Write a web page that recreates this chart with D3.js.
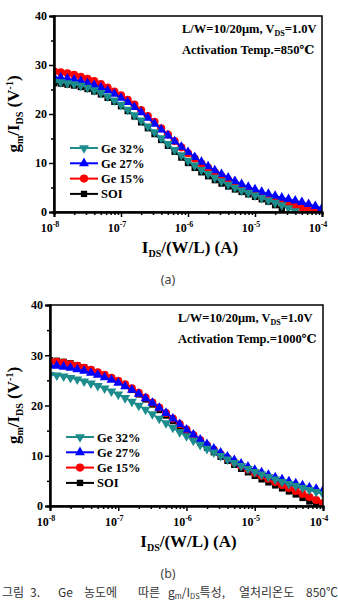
<!DOCTYPE html>
<html>
<head>
<meta charset="utf-8">
<script src="https://cdn.jsdelivr.net/npm/d3@7/dist/d3.min.js"></script>
<style>
  html, body { margin: 0; padding: 0; background: #fff; }
  svg { display: block; }
</style>
</head>
<body>
<script>
// log10 of I_DS/(W/L) at each measured point
const logI = [-8.0, -7.9, -7.8, -7.7, -7.6, -7.5, -7.4, -7.3, -7.2, -7.1,
              -7.0, -6.9, -6.8, -6.7, -6.6, -6.5, -6.4, -6.3, -6.2, -6.1,
              -6.0, -5.9, -5.8, -5.7, -5.6, -5.5, -5.4, -5.3, -5.2, -5.1,
              -5.0, -4.9, -4.8, -4.7, -4.6, -4.5, -4.4, -4.3, -4.2, -4.1, -4.0]

const seriesNames = ["Ge 32%", "Ge 27%", "Ge 15%", "SOI"]
const xDecades = [-8, -7, -6, -5, -4]
const yTicks = [0, 10, 20, 30, 40]
const yMinor = [5, 15, 25, 35]

// (a) activation 850C
const a_ge32 = [26.6, 26.5, 26.3, 26.1, 25.8, 25.4, 24.9, 24.3, 23.6, 22.8,
                21.9, 20.9, 19.8, 18.7, 17.5, 16.3, 15.1, 13.9, 12.7, 11.6,
                10.5, 9.5, 8.6, 7.8, 7.0, 6.3, 5.6, 5.0, 4.4, 3.9,
                3.4, 2.9, 2.4, 1.9, 1.4, 0.8, 0.2, null, null, null, null]
const a_ge27 = [27.5, 27.4, 27.2, 27.0, 26.7, 26.3, 25.9, 25.4, 24.8, 24.1,
                23.3, 22.4, 21.4, 20.3, 19.2, 18.0, 16.8, 15.6, 14.4, 13.3,
                12.2, 11.2, 10.2, 9.3, 8.5, 7.7, 7.0, 6.3, 5.7, 5.1,
                4.6, 4.1, 3.7, 3.3, 2.9, 2.6, 2.3, 2.0, 1.6, 1.2, 0.8]
const a_ge15 = [28.7, 28.5, 28.3, 28.0, 27.6, 27.2, 26.7, 26.1, 25.4, 24.6,
                23.8, 22.9, 21.9, 20.8, 19.6, 18.4, 17.1, 15.8, 14.5, 13.2,
                12.0, 10.9, 9.9, 9.0, 8.1, 7.3, 6.5, 5.8, 5.1, 4.5,
                3.9, 3.4, 2.9, 2.4, 2.0, 1.6, 1.2, 0.9, 0.6, 0.3, 0.0]
const a_soi  = [26.3, 26.2, 26.0, 25.8, 25.5, 25.1, 24.6, 24.0, 23.3, 22.5,
                21.6, 20.6, 19.5, 18.3, 17.1, 15.9, 14.7, 13.5, 12.3, 11.1,
                10.0, 9.0, 8.1, 7.3, 6.5, 5.8, 5.2, 4.6, 4.1, 3.6,
                3.1, 2.6, 2.1, 1.4, 0.6, null, null, null, null, null, null]

// (b) activation 1000C
const b_ge32 = [26.1, 26.0, 25.8, 25.5, 25.2, 24.8, 24.4, 23.9, 23.4, 22.8,
                22.2, 21.5, 20.8, 20.0, 19.2, 18.3, 17.4, 16.5, 15.6, 14.7,
                13.9, 13.0, 12.2, 11.4, 10.7, 10.0, 9.3, 8.6, 8.0, 7.4,
                6.8, 6.3, 5.8, 5.3, 4.8, 4.4, 4.0, 3.6, 3.2, 2.8, 2.4]
const b_ge27 = [28.0, 27.9, 27.7, 27.5, 27.2, 26.9, 26.5, 26.1, 25.6, 25.1,
                24.5, 23.8, 23.1, 22.3, 21.4, 20.5, 19.5, 18.5, 17.4, 16.3,
                15.2, 14.2, 13.2, 12.3, 11.4, 10.6, 9.8, 9.1, 8.4, 7.8,
                7.2, 6.7, 6.2, 5.7, 5.3, 4.9, 4.5, 4.1, 3.7, 3.4, 3.1]
const b_ge15 = [28.8, 28.7, 28.5, 28.2, 27.9, 27.5, 27.1, 26.6, 26.1, 25.5,
                24.9, 24.2, 23.4, 22.5, 21.6, 20.6, 19.6, 18.5, 17.4, 16.3,
                15.2, 14.1, 13.1, 12.1, 11.2, 10.3, 9.5, 8.7, 8.0, 7.3,
                6.6, 6.0, 5.4, 4.8, 4.2, 3.6, 3.0, 2.4, 1.8, 1.2, 0.6]
const b_soi  = [29.0, 28.9, 28.7, 28.4, 28.0, 27.6, 27.1, 26.6, 26.0, 25.4,
                24.7, 23.9, 23.1, 22.2, 21.2, 20.2, 19.1, 18.0, 16.9, 15.8,
                14.7, 13.6, 12.6, 11.6, 10.7, 9.8, 9.0, 8.2, 7.4, 6.7,
                6.0, 5.3, 4.7, 4.1, 3.5, 2.9, 2.3, 1.6, 0.9, 0.2, null]

const colors = { "Ge 32%": "#1c8c8c", "Ge 27%": "#0000ff", "Ge 15%": "#ff0000", "SOI": "#000000" }
const SERIF = "'Liberation Serif', 'DejaVu Serif', serif"

const svg = d3.select("body").append("svg")
    .attr("width", 338)
    .attr("height", 603)

const symbolFor = name => {
    if (name === "Ge 32%") return { type: d3.symbolTriangle, size: 42, rot: 180 }
    if (name === "Ge 27%") return { type: d3.symbolTriangle, size: 42, rot: 0 }
    if (name === "Ge 15%") return { type: d3.symbolCircle, size: 52, rot: 0 }
    return { type: d3.symbolSquare, size: 40, rot: 0 }
}

function drawPanel(p){
    const x = d3.scaleLog().domain([1e-8, 1e-4]).range([p.left, p.right])
    const y = d3.scaleLinear().domain([0, 40]).range([p.bottom, p.top])
    const g = svg.append("g")

    g.append("clipPath").attr("id", "clip-" + p.id)
        .append("rect")
        .attr("x", p.left).attr("y", p.top)
        .attr("width", p.right - p.left).attr("height", p.bottom - p.top)

    const plot = g.append("g").attr("clip-path", "url(#clip-" + p.id + ")")

    // draw order: SOI first, Ge 32% on top
    const order = ["SOI", "Ge 15%", "Ge 27%", "Ge 32%"]
    order.forEach(name => {
        const vals = p.series[name]
        const pts = logI.map((l, i) => ({ I: Math.pow(10, l), v: vals[i] })).filter(d => d.v != null)
        const line = d3.line().x(d => x(d.I)).y(d => y(d.v))
        plot.append("path")
            .attr("d", line(pts))
            .attr("fill", "none")
            .attr("stroke", colors[name])
            .attr("stroke-width", 1.5)
        const sym = symbolFor(name)
        plot.append("g").selectAll("path")
            .data(pts)
            .enter().append("path")
            .attr("d", d3.symbol().type(sym.type).size(sym.size))
            .attr("transform", d => `translate(${x(d.I)},${y(d.v)}) rotate(${sym.rot})`)
            .attr("fill", colors[name])
    })

    // frame
    g.append("rect")
        .attr("x", p.left).attr("y", p.top)
        .attr("width", p.right - p.left).attr("height", p.bottom - p.top)
        .attr("fill", "none").attr("stroke", "#000").attr("stroke-width", 1.5)

    // x axis
    const minor = []
    xDecades.slice(0, -1).forEach(dec => {
        for (let k = 2; k <= 9; k++) minor.push(k * Math.pow(10, dec))
    })
    const xAxisG = g.append("g").attr("transform", `translate(0,${p.bottom})`)
    xAxisG.call(d3.axisBottom(x).tickValues(xDecades.map(d => Math.pow(10, d))).tickSize(5).tickFormat(""))
    xAxisG.append("g").call(d3.axisBottom(x).tickValues(minor).tickSize(3).tickFormat(""))
    xAxisG.selectAll("path.domain").attr("stroke-width", 2)
    xAxisG.selectAll("line").attr("stroke-width", 1.5)

    const xl = g.append("g")
        .attr("font-family", SERIF).attr("font-weight", "bold").attr("font-size", 12)
        .selectAll("text").data(xDecades).enter().append("text")
        .attr("x", d => x(Math.pow(10, d)) - 4)
        .attr("y", p.bottom + 20)
        .attr("text-anchor", "middle")
    xl.append("tspan").text("10")
    xl.append("tspan").attr("dy", -5).attr("font-size", 8).text(d => "-" + (-d))

    // y axis
    const yAxisG = g.append("g").attr("transform", `translate(${p.left},0)`)
    yAxisG.call(d3.axisLeft(y).tickValues(yTicks).tickSize(5).tickPadding(2))
    yAxisG.append("g").call(d3.axisLeft(y).tickValues(yMinor).tickSize(3).tickFormat(""))
    yAxisG.selectAll("path.domain").attr("stroke-width", 2)
    yAxisG.selectAll("line").attr("stroke-width", 1.5)
    yAxisG.selectAll("text")
        .attr("font-family", SERIF).attr("font-weight", "bold").attr("font-size", 12).attr("fill", "#000")

    // axis titles
    const xt = g.append("text")
        .attr("x", (p.left + p.right) / 2 + 2)
        .attr("y", p.bottom + 41)
        .attr("text-anchor", "middle")
        .attr("font-family", SERIF).attr("font-weight", "bold").attr("font-size", 17)
    xt.append("tspan").text("I")
    xt.append("tspan").attr("dy", 4).attr("font-size", 10).text("DS")
    xt.append("tspan").attr("dy", -4).text("/(W/L) (A)")

    const yt = g.append("text")
        .attr("transform", `translate(19,${(p.top + p.bottom) / 2}) rotate(-90)`)
        .attr("text-anchor", "middle")
        .attr("font-family", SERIF).attr("font-weight", "bold").attr("font-size", 17)
    yt.append("tspan").text("g")
    yt.append("tspan").attr("dy", 4).attr("font-size", 10).text("m")
    yt.append("tspan").attr("dy", -4).text("/I")
    yt.append("tspan").attr("dy", 4).attr("font-size", 10).text("DS")
    yt.append("tspan").attr("dy", -4).text(" (V")
    yt.append("tspan").attr("dy", -6).attr("font-size", 10).text("-1")
    yt.append("tspan").attr("dy", 6).text(")")

    // annotation
    const ann = g.append("g")
        .attr("font-family", SERIF).attr("font-weight", "bold").attr("font-size", 12.5)
    const a1 = ann.append("text").attr("x", p.annX).attr("y", p.top + 17)
    a1.append("tspan").text("L/W=10/20μm, V")
    a1.append("tspan").attr("dy", 3).attr("font-size", 8).text("DS")
    a1.append("tspan").attr("dy", -3).text("=1.0V")
    ann.append("text").attr("x", p.annX).attr("y", p.top + 38).text(p.tempText)

    // legend
    const lg = g.append("g")
        .attr("font-family", SERIF).attr("font-weight", "bold").attr("font-size", 12.5)
    seriesNames.forEach((name, i) => {
        const cy = p.legY + i * 15.3
        lg.append("line")
            .attr("x1", p.legX).attr("x2", p.legX + 28)
            .attr("y1", cy).attr("y2", cy)
            .attr("stroke", colors[name]).attr("stroke-width", 2)
        const sym = symbolFor(name)
        lg.append("path")
            .attr("d", d3.symbol().type(sym.type).size(sym.size))
            .attr("transform", `translate(${p.legX + 14},${cy}) rotate(${sym.rot})`)
            .attr("fill", colors[name])
        lg.append("text").attr("x", p.legX + 31).attr("y", cy + 4.5).text(name)
    })

    // panel label
    svg.append("text")
        .attr("x", 168).attr("y", p.labelY)
        .attr("text-anchor", "middle")
        .attr("font-family", "'Noto Sans', sans-serif").attr("font-size", 12.5)
        .attr("fill", "#444")
        .text(p.label)
}

drawPanel({
    id: "a", left: 54, right: 322, top: 16, bottom: 212,
    series: { "Ge 32%": a_ge32, "Ge 27%": a_ge27, "Ge 15%": a_ge15, "SOI": a_soi },
    annX: 182, tempText: "Activation Temp.=850℃",
    legX: 70, legY: 148, label: "(a)", labelY: 284
})

drawPanel({
    id: "b", left: 50, right: 323, top: 305, bottom: 506,
    series: { "Ge 32%": b_ge32, "Ge 27%": b_ge27, "Ge 15%": b_ge15, "SOI": b_soi },
    annX: 178, tempText: "Activation Temp.=1000℃",
    legX: 66, legY: 437, label: "(b)", labelY: 578
})

// caption, words placed where they sit in the justified line
const cap = svg.append("text")
    .attr("y", 597)
    .attr("font-family", "'Noto Sans CJK KR', sans-serif")
    .attr("font-size", 12)
    .attr("fill", "#333")
const words = [["그림", 2], ["3.", 30], ["Ge", 58], ["농도에", 84], ["따른", 138]]
words.forEach(w => cap.append("tspan").attr("x", w[1]).text(w[0]))
cap.append("tspan").attr("x", 168).text("g")
cap.append("tspan").attr("font-size", 7.5).attr("dy", 2).text("m")
cap.append("tspan").attr("dy", -2).text("/I")
cap.append("tspan").attr("font-size", 7.5).attr("dy", 2).text("DS")
cap.append("tspan").attr("dy", -2).text("특성,")
cap.append("tspan").attr("x", 239).text("열처리온도")
cap.append("tspan").attr("x", 306).text("850℃")
</script>
</body>
</html>
